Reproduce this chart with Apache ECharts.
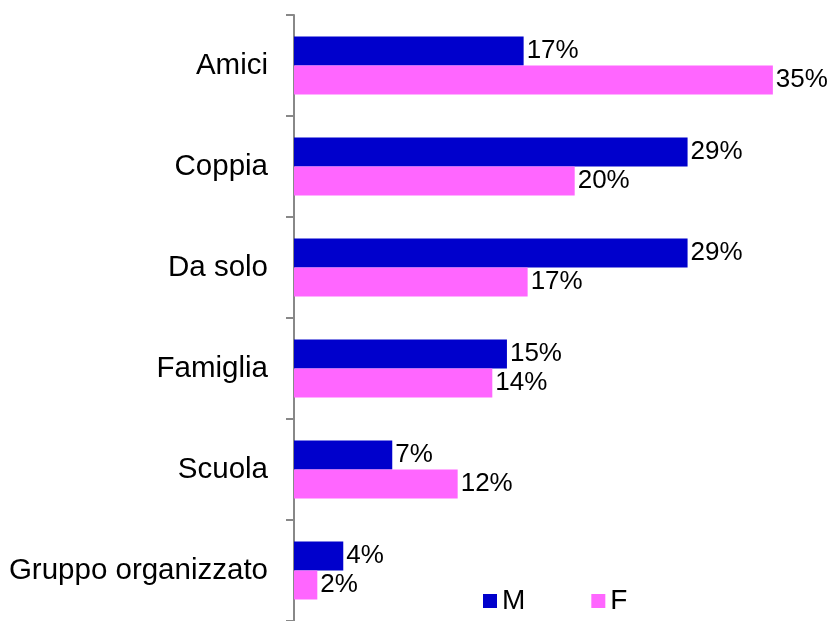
<!DOCTYPE html>
<html>
<head>
<meta charset="utf-8">
<script src="https://cdn.jsdelivr.net/npm/echarts@6/dist/echarts.min.js"></script>
<style>
  html, body { margin: 0; padding: 0; background: #fff; }
  #chart { width: 835px; height: 621px; }
</style>
</head>
<body>
<div id="chart"></div>
<script>
var categories = ['Amici', 'Coppia', 'Da solo', 'Famiglia', 'Scuola', 'Gruppo organizzato'];
var seriesNames = ['M', 'F'];
var valuesM = [16.64, 28.52, 28.52, 15.43, 7.12, 3.57];
var valuesF = [34.7, 20.34, 16.93, 14.37, 11.86, 1.69];

var font = 'Liberation Sans, Arial, sans-serif';

var pctLabel = {
  show: true,
  position: 'right',
  distance: 3,
  color: '#000',
  fontSize: 26,
  fontFamily: font,
  formatter: function (p) { return Math.round(p.value) + '%'; }
};

var chart = echarts.init(document.getElementById('chart'));
chart.setOption({
  animation: false,
  grid: { left: 294, top: 15, width: 524.4, bottom: 0 },
  legend: {
    data: seriesNames,
    left: 483,
    top: 587,
    padding: 0,
    itemWidth: 14,
    itemHeight: 14,
    itemGap: 66,
    icon: 'rect',
    textStyle: { fontSize: 28, fontFamily: font, color: '#000' }
  },
  xAxis: {
    type: 'value',
    min: 0,
    max: 38,
    show: false
  },
  yAxis: {
    type: 'category',
    inverse: true,
    data: categories,
    axisLine: { lineStyle: { color: '#888', width: 2 } },
    axisTick: { show: true, length: 8, lineStyle: { color: '#888', width: 2 } },
    axisLabel: { margin: 26, fontSize: 29.5, color: '#000', fontFamily: font }
  },
  series: [
    {
      name: seriesNames[0],
      type: 'bar',
      data: valuesM,
      barGap: '0%',
      barCategoryGap: '42.6%',
      itemStyle: { color: '#0000CC' },
      label: pctLabel
    },
    {
      name: seriesNames[1],
      type: 'bar',
      data: valuesF,
      barGap: '0%',
      barCategoryGap: '42.6%',
      itemStyle: { color: '#FF66FF' },
      label: pctLabel
    }
  ]
});
</script>
</body>
</html>
